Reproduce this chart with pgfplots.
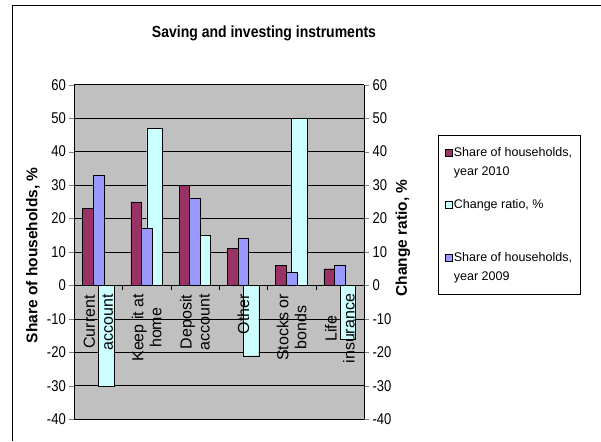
\documentclass[border=0pt]{standalone}
\usepackage{pgfplots}
\pgfplotsset{compat=1.18}
\usepackage{fontspec}
\setmainfont{Liberation Sans}
\definecolor{maroonbar}{HTML}{993366}
\definecolor{cyanbar}{HTML}{CCFFFF}
\definecolor{perbar}{HTML}{9999FF}
\definecolor{plotgray}{HTML}{C0C0C0}
\pgfplotsset{
  base/.style={
    scale only axis, width=289.7pt, height=334.6pt,
    at={(74.3pt,21.7pt)}, anchor=south west,
    xmin=-0.5, xmax=5.5, ymin=-40, ymax=60,
    ytick={-40,-30,...,60},
    /pgf/number format/assume math mode=true,
    yticklabel={\scalebox{1}[1.2]{\pgfmathprintnumber{\tick}}},
    yticklabel style={font=\fontsize{13}{15}\selectfont},
    tick align=outside, major tick length=5pt,
  },
  sq/.style={legend image code/.code={\draw[##1] (0pt,-3.5pt) rectangle (7pt,3.5pt);}},
}
\begin{document}
\begin{tikzpicture}[x=1pt,y=1pt]
\useasboundingbox (0,0) rectangle (601,441);
\draw[line width=1pt] (12,0) -- (12,435) -- (601,435);
\node[font=\bfseries\fontsize{14}{17}\selectfont] at (264,408) {\scalebox{1}[1.15]{Saving and investing instruments}};

\begin{axis}[base,
  axis background/.style={fill=plotgray},
  ymajorgrids, grid style={black, line width=0.8pt},
  axis x line=none, axis y line*=left,
  ylabel={Share of households, \%},
  ylabel style={at={(axis description cs:-0.1426,0.49)}, anchor=center, rotate=0, font=\bfseries\fontsize{15.5}{17}\selectfont},
]
\addplot[ybar, bar width=0.32, bar shift=0.16, fill=cyanbar, draw=black]
  coordinates {(0,-30) (1,47) (2,15) (3,-21) (4,50) (5,-16)};
\end{axis}

\begin{axis}[base,
  axis y line*=right, axis x line*=middle,
  xtick={0,...,5},
  xticklabels={{Current\\account},{Keep it at\\home},{Deposit\\account},{Other},{Stocks or\\bonds},{Life\\insurance}},
  xticklabel style={rotate=90, anchor=east, align=center, font=\fontsize{16}{18}\selectfont},
  minor xtick={0.5,1.5,...,4.5},
  major x tick style={draw=none},
  minor x tick style={black},
  minor tick length=5pt,
  ylabel={Change ratio, \%},
  ylabel style={at={(axis description cs:1.1346,0.542)}, anchor=center, rotate=0, font=\bfseries\fontsize{15.5}{17}\selectfont},
  legend style={at={(axis description cs:1.2565,0.8497)}, anchor=north west,
    draw=black, fill=white, font=\fontsize{12.5}{19}\selectfont,
    nodes={align=left}, row sep=19pt, inner xsep=6pt, inner ysep=10pt},
  legend cell align=left,
  legend image post style={yshift=9.5pt},
]
\addplot[ybar, sq, bar width=0.22, bar shift=-0.22, fill=maroonbar, draw=black]
  coordinates {(0,23) (1,25) (2,30) (3,11) (4,6) (5,5)};
\addlegendentry{Share of households,\\year 2010}
\addlegendimage{sq, fill=cyanbar, draw=black}
\addlegendentry{Change ratio, \%\\\mbox{}}
\addplot[ybar, sq, bar width=0.22, bar shift=0, fill=perbar, draw=black]
  coordinates {(0,33) (1,17) (2,26) (3,14) (4,4) (5,6)};
\addlegendentry{Share of households,\\year 2009}
\end{axis}
\end{tikzpicture}
\end{document}
